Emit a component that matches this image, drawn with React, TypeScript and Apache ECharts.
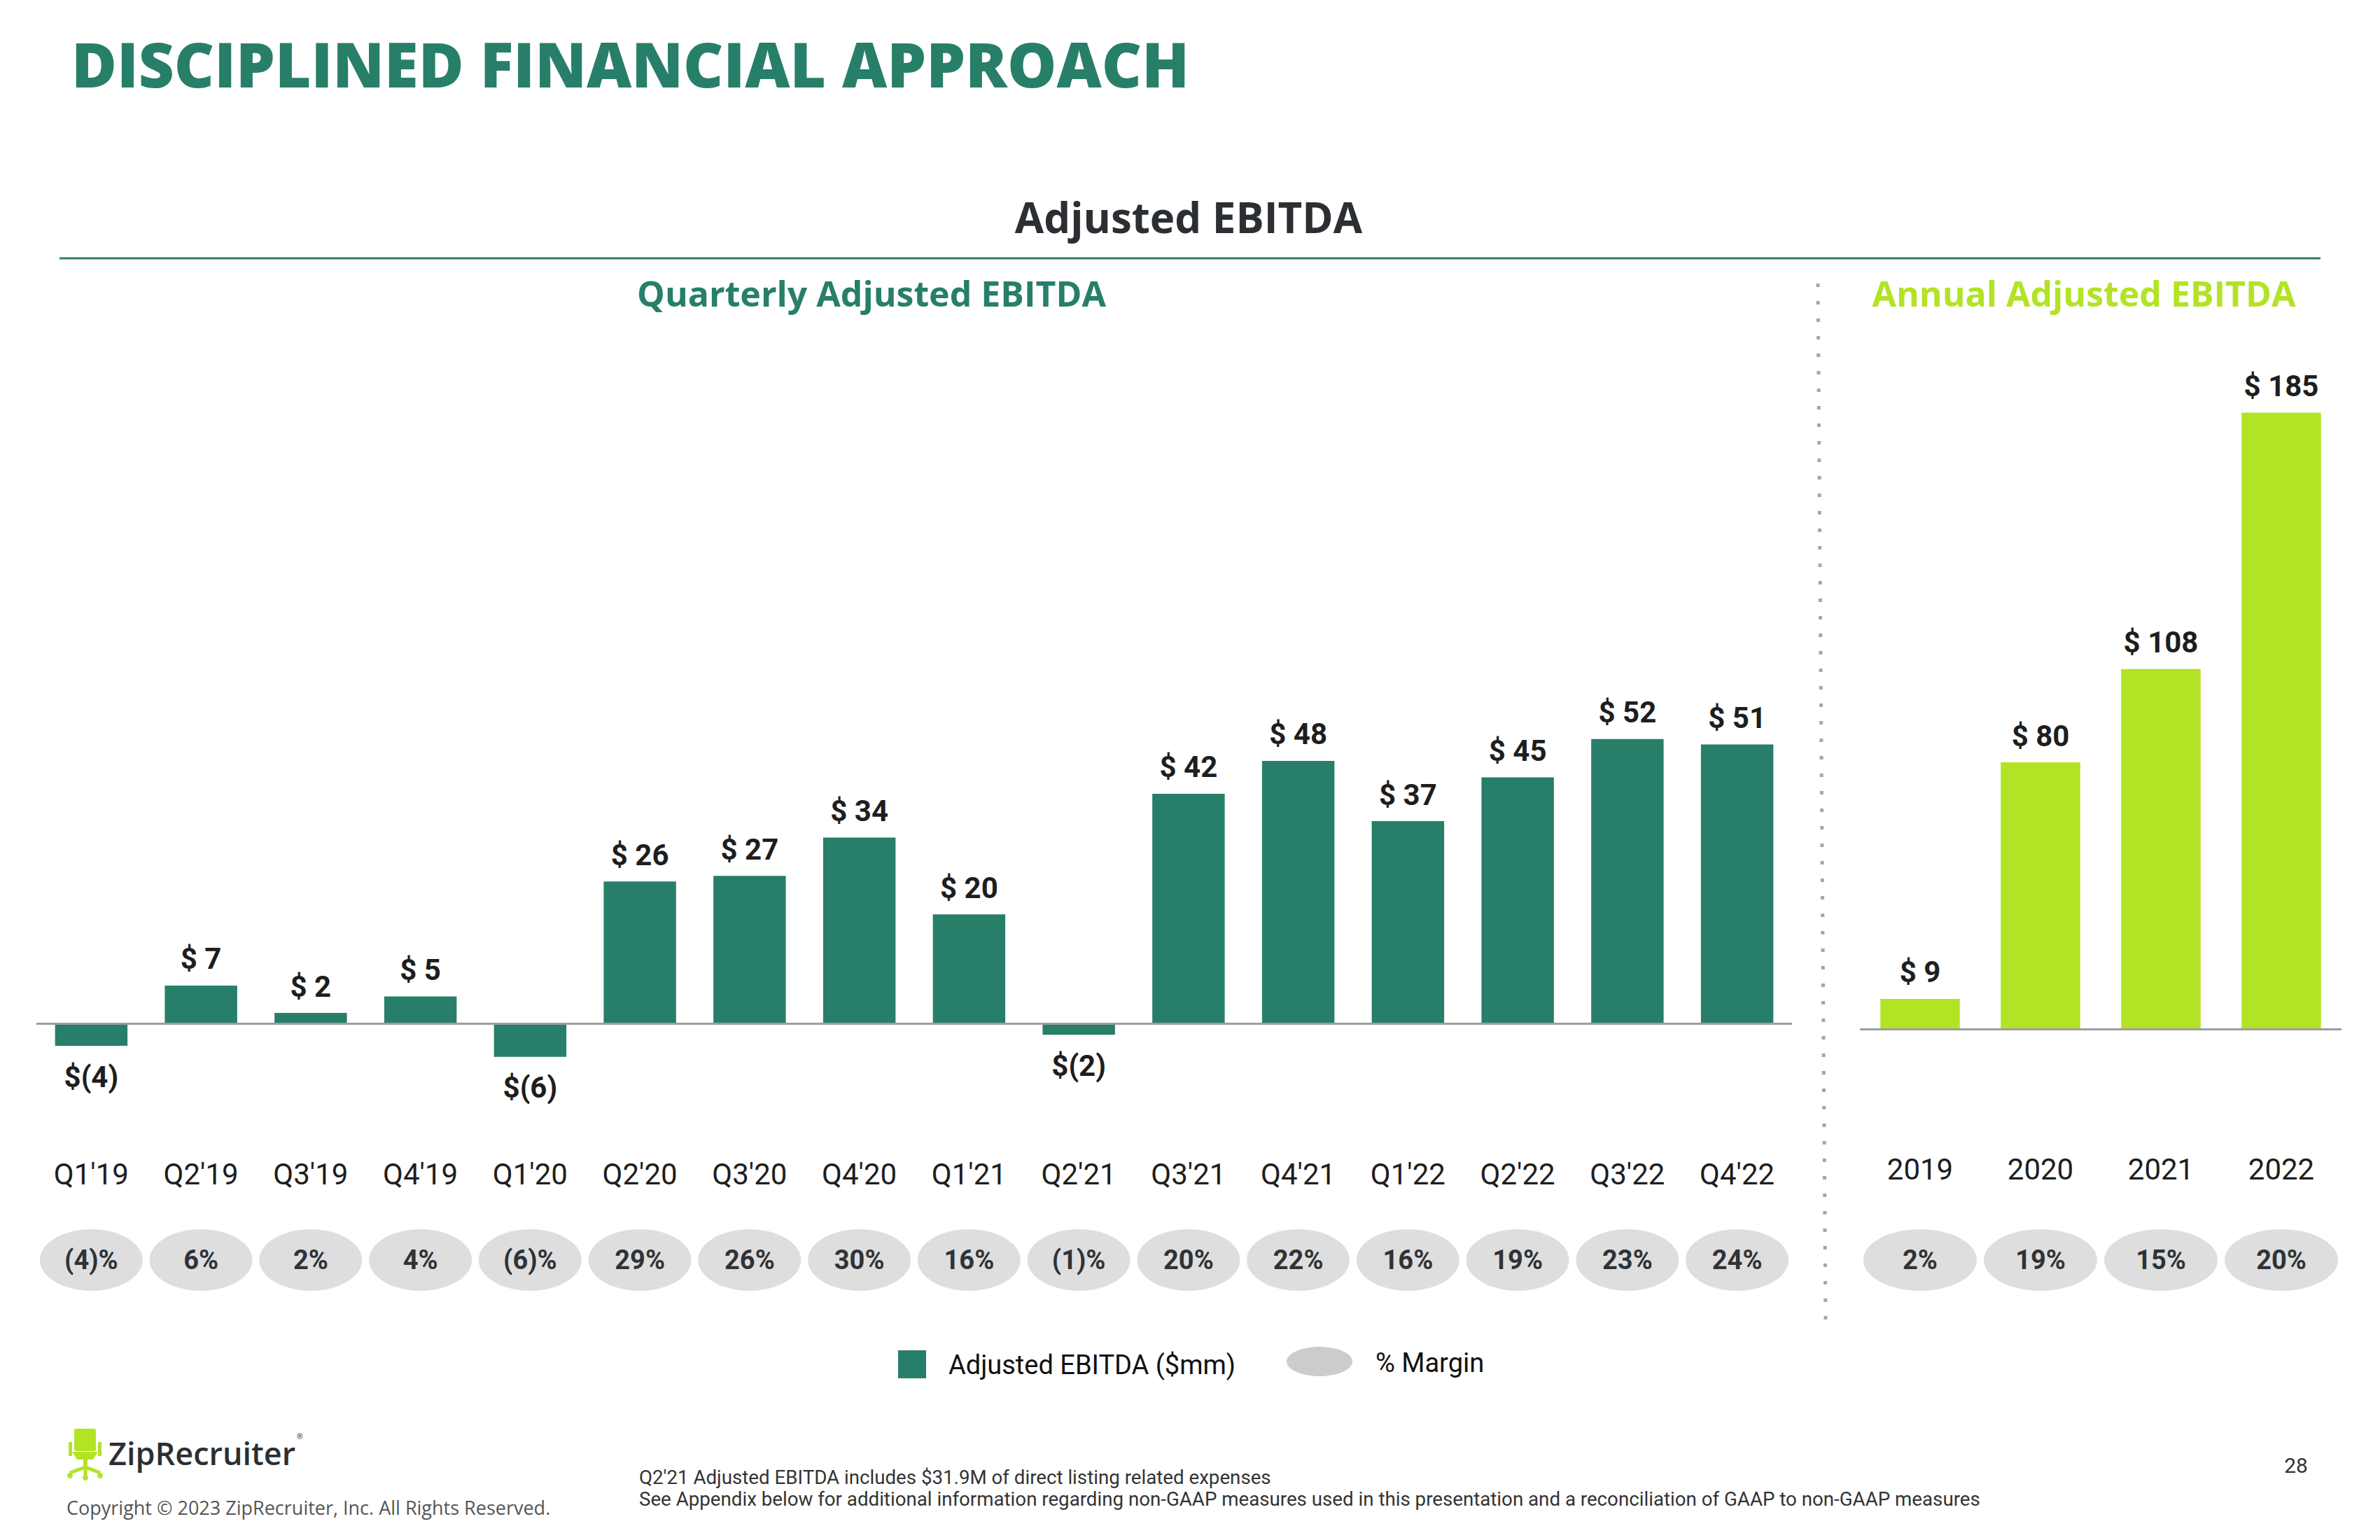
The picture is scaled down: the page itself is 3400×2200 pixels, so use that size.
import React, { useEffect, useRef } from "react";
import * as echarts from "echarts";

// ---------- data ----------
const quarters = ["Q1'19", "Q2'19", "Q3'19", "Q4'19", "Q1'20", "Q2'20", "Q3'20", "Q4'20", "Q1'21", "Q2'21", "Q3'21", "Q4'21", "Q1'22", "Q2'22", "Q3'22", "Q4'22"];
const quarterlyEbitda = [-4, 7, 2, 5, -6, 26, 27, 34, 20, -2, 42, 48, 37, 45, 52, 51];
const quarterlyMargin = [-4, 6, 2, 4, -6, 29, 26, 30, 16, -1, 20, 22, 16, 19, 23, 24];
const years = ["2019", "2020", "2021", "2022"];
const annualEbitda = [9, 80, 108, 185];
const annualMargin = [2, 19, 15, 20];

// ---------- styles ----------
const GREEN = "#277F69";
const LIME = "#B2E325";
const PILL = "#DEDEDE";
const TEXT_DARK = "#1E1E1E";
const HEAD_FONT = "'Open Sans', 'Noto Sans', sans-serif";
const BODY_FONT = "Roboto, 'Noto Sans', sans-serif";

const fmtMoney = (v: number) => (v < 0 ? `$(${-v})` : `$ ${v}`);
const fmtPct = (v: number) => (v < 0 ? `(${-v})%` : `${v}%`);

const barData = (vals: number[]) =>
  vals.map((v) => ({
    value: v,
    label: { position: v < 0 ? "bottom" : "top", distance: v < 0 ? 23 : 17 },
  }));

const barLabel = {
  show: true,
  formatter: (p: any) => fmtMoney(p.value),
  fontFamily: BODY_FONT,
  fontSize: 42,
  fontWeight: "bold",
  color: TEXT_DARK,
};

const zeroLine = {
  silent: true,
  symbol: "none",
  label: { show: false },
  lineStyle: { color: "#9E9E9E", width: 3, type: "solid" },
  data: [{ yAxis: 0 }],
};

const pillLabel = (vals: number[]) => ({
  show: true,
  position: "inside",
  formatter: (p: any) => fmtPct(vals[p.dataIndex]),
  fontFamily: BODY_FONT,
  fontSize: 38,
  fontWeight: "bold",
  color: "#2F3337",
});

const txt = (
  text: string,
  x: number,
  y: number,
  fontSize: number,
  fill: string,
  opts: any = {}
) => ({
  type: "text",
  x,
  y,
  silent: true,
  style: {
    text,
    fill,
    fontSize,
    fontFamily: opts.fontFamily || BODY_FONT,
    fontWeight: opts.fontWeight || "normal",
    align: opts.align || "left",
    textAlign: opts.align || "left",
    verticalAlign: "middle",
    textVerticalAlign: "middle",
  },
});

function buildOption() {
  return {
    animation: false,
    backgroundColor: "#ffffff",
    textStyle: { fontFamily: BODY_FONT },
    grid: [
      { left: 52, top: 993, width: 2508, height: 548 },
      { left: 2657, top: 518, width: 688, height: 1047 },
      { left: 52, top: 1750, width: 2508, height: 100 },
      { left: 2657, top: 1750, width: 688, height: 100 },
    ],
    xAxis: [
      {
        type: "category",
        gridIndex: 0,
        data: quarters,
        axisLine: { show: false },
        axisTick: { show: false },
        axisLabel: { margin: 115, fontSize: 42, color: TEXT_DARK, fontFamily: BODY_FONT },
      },
      {
        type: "category",
        gridIndex: 1,
        data: years,
        axisLine: { show: false },
        axisTick: { show: false },
        axisLabel: { margin: 84, fontSize: 42, color: TEXT_DARK, fontFamily: BODY_FONT },
      },
      { type: "category", gridIndex: 2, data: quarters, show: false },
      { type: "category", gridIndex: 3, data: years, show: false },
    ],
    yAxis: [
      { type: "value", gridIndex: 0, min: -10, max: 60, show: false, splitLine: { show: false } },
      { type: "value", gridIndex: 1, min: -20, max: 200, show: false, splitLine: { show: false } },
      { type: "value", gridIndex: 2, min: 0, max: 1, show: false, splitLine: { show: false } },
      { type: "value", gridIndex: 3, min: 0, max: 1, show: false, splitLine: { show: false } },
    ],
    series: [
      {
        name: "Adjusted EBITDA ($mm)",
        type: "bar",
        xAxisIndex: 0,
        yAxisIndex: 0,
        barWidth: "66%",
        itemStyle: { color: GREEN },
        label: barLabel,
        data: barData(quarterlyEbitda),
        markLine: zeroLine,
      },
      {
        name: "Annual Adjusted EBITDA",
        type: "bar",
        xAxisIndex: 1,
        yAxisIndex: 1,
        barWidth: "66%",
        itemStyle: { color: LIME },
        label: barLabel,
        data: barData(annualEbitda),
        markLine: zeroLine,
      },
      {
        name: "% Margin",
        type: "scatter",
        xAxisIndex: 2,
        yAxisIndex: 2,
        symbol: "circle",
        symbolSize: [147, 88],
        itemStyle: { color: PILL, opacity: 1 },
        label: pillLabel(quarterlyMargin),
        data: quarterlyMargin.map((_, i) => [i, 0.5]),
      },
      {
        name: "% Margin (annual)",
        type: "scatter",
        xAxisIndex: 3,
        yAxisIndex: 3,
        symbol: "circle",
        symbolSize: [162, 88],
        itemStyle: { color: PILL, opacity: 1 },
        label: pillLabel(annualMargin),
        data: annualMargin.map((_, i) => [i, 0.5]),
      },
    ],
    graphic: [
      txt("DISCIPLINED FINANCIAL APPROACH", 102, 90, 88.5, GREEN, { fontFamily: HEAD_FONT, fontWeight: 800 }),
      txt("Adjusted EBITDA", 1698, 310, 60, "#2B2F33", { fontFamily: HEAD_FONT, fontWeight: "bold", align: "center" }),
      {
        type: "line",
        silent: true,
        shape: { x1: 85, y1: 369, x2: 3315, y2: 369 },
        style: { stroke: "#2E7B68", lineWidth: 3 },
      },
      txt("Quarterly Adjusted EBITDA", 1245, 419, 50, GREEN, { fontFamily: HEAD_FONT, fontWeight: "bold", align: "center" }),
      txt("Annual Adjusted EBITDA", 2977, 419, 50, LIME, { fontFamily: HEAD_FONT, fontWeight: "bold", align: "center" }),
      {
        type: "line",
        silent: true,
        shape: { x1: 2597, y1: 405, x2: 2608, y2: 1886 },
        style: { stroke: "#A6A6A6", lineWidth: 5, lineDash: [5, 20] },
      },
      // legend
      { type: "rect", silent: true, shape: { x: 1283, y: 1929, width: 40, height: 40 }, style: { fill: GREEN } },
      txt("Adjusted EBITDA ($mm)", 1355, 1950, 38, "#111111"),
      { type: "ellipse", silent: true, shape: { cx: 1885, cy: 1945, rx: 47, ry: 21 }, style: { fill: "#CCCCCC" } },
      txt("% Margin", 1965, 1947, 38, "#111111"),
      // logo
      {
        type: "group",
        silent: true,
        children: [
          { type: "rect", shape: { x: 106, y: 2041, width: 31, height: 32, r: 3 }, style: { fill: LIME } },
          { type: "rect", shape: { x: 98, y: 2060, width: 5, height: 20 }, style: { fill: LIME } },
          { type: "rect", shape: { x: 140, y: 2060, width: 5, height: 20 }, style: { fill: LIME } },
          { type: "polygon", shape: { points: [[103, 2074], [140, 2074], [133, 2085], [110, 2085]] }, style: { fill: LIME } },
          { type: "rect", shape: { x: 119, y: 2084, width: 6, height: 14 }, style: { fill: LIME } },
          { type: "polyline", shape: { points: [[100, 2104], [122, 2096], [143, 2104]] }, style: { stroke: LIME, lineWidth: 5, fill: null } },
          { type: "line", shape: { x1: 122, y1: 2096, x2: 122, y2: 2108 }, style: { stroke: LIME, lineWidth: 5 } },
          { type: "circle", shape: { cx: 100, cy: 2108, r: 4 }, style: { fill: LIME } },
          { type: "circle", shape: { cx: 122, cy: 2111, r: 4 }, style: { fill: LIME } },
          { type: "circle", shape: { cx: 143, cy: 2108, r: 4 }, style: { fill: LIME } },
        ],
      },
      txt("ZipRecruiter", 155, 2075, 45, "#2B2F33", { fontFamily: HEAD_FONT, fontWeight: 600 }),
      txt("®", 424, 2052, 11, "#2B2F33"),
      txt("Copyright © 2023 ZipRecruiter, Inc. All Rights Reserved.", 95, 2153, 27, "#555555", { fontFamily: HEAD_FONT }),
      txt("Q2'21 Adjusted EBITDA includes $31.9M of direct listing related expenses", 913, 2110, 27.7, "#333333"),
      txt(
        "See Appendix below for additional information regarding non-GAAP measures used in this presentation and a reconciliation of GAAP to non-GAAP measures",
        913,
        2141,
        27.7,
        "#333333"
      ),
      txt("28", 3280, 2093, 30, "#333333", { align: "center" }),
    ],
  };
}

export default function App() {
  const ref = useRef<HTMLDivElement>(null);
  useEffect(() => {
    if (!ref.current) return;
    const chart = echarts.init(ref.current, null, { renderer: "svg" });
    chart.setOption(buildOption() as any);
    return () => chart.dispose();
  }, []);
  return (
    <div
      ref={ref}
      style={{ position: "fixed", left: 0, top: 0, width: 3400, height: 2200, background: "#ffffff" }}
    />
  );
}
